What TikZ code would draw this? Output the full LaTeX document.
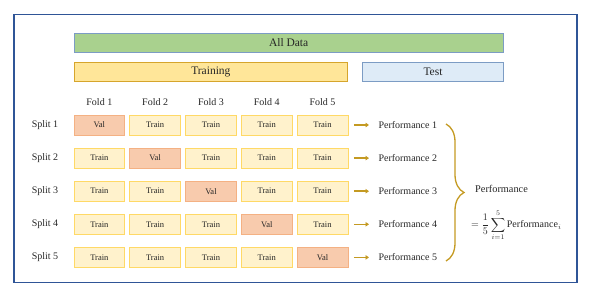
\documentclass[tikz,border=0pt]{standalone}
\usepackage{fontspec}
\usepackage{amsmath}
\setmainfont{Liberation Serif}
\usetikzlibrary{arrows.meta,decorations.pathreplacing}
\definecolor{framec}{HTML}{2F5597}
\definecolor{greenf}{HTML}{A9D18E}
\definecolor{blueb}{HTML}{7C9CC4}
\definecolor{goldf}{HTML}{FFE699}
\definecolor{goldb}{HTML}{D6A52C}
\definecolor{testf}{HTML}{DEEBF7}
\definecolor{trainf}{HTML}{FFF2CC}
\definecolor{trainb}{HTML}{FFD966}
\definecolor{valf}{HTML}{F8CBAD}
\definecolor{valb}{HTML}{F4B183}
\definecolor{arrowc}{HTML}{C49A22}
\definecolor{txt}{HTML}{262626}
\tikzset{
  bar/.style={draw, line width=1pt, minimum height=19.3pt, inner sep=0pt, text=txt, font=\fontsize{11.5}{12}\selectfont},
  cell/.style={draw, line width=0.8pt, minimum width=50.7pt, minimum height=20pt, inner sep=0pt, text=txt, font=\fontsize{8.5}{9}\selectfont},
  traincell/.style={cell, fill=trainf, draw=trainb},
  valcell/.style={cell, fill=valf, draw=valb},
  lab/.style={text=txt, inner sep=0pt, font=\fontsize{10}{11}\selectfont},
  arr/.style={draw=arrowc, line width=1.6pt, -{Triangle[length=3.5pt,width=4.5pt]}},
}
\begin{document}
\begin{tikzpicture}[x=1pt,y=-1pt]
\useasboundingbox (0,0) rectangle (600,297);
\node[draw=framec, line width=1.1pt, minimum width=563pt, minimum height=268pt, inner sep=0pt] (frame) at (295.5,148.2) {};
\node[bar, fill=greenf, draw=blueb, minimum width=429.3pt] (all) at (288.65,43) {All Data};
\node[bar, fill=goldf, draw=goldb, minimum width=273.7pt] (training) at (210.85,71.65) {Training};
\node[bar, fill=testf, draw=blueb, minimum width=140.6pt] (test) at (433,71.65) {Test};
\foreach \j in {1,...,5} {
  \node[lab] (fold\j) at ({99.35+55.8*(\j-1)},102) {Fold \j};
}
\foreach \i in {1,...,5} {
  \pgfmathsetmacro{\yy}{125+33.1*(\i-1)}
  \node[lab] (split\i) at (45,\yy) {Split \i};
  \foreach \j in {1,...,5} {
    \ifnum\i=\j
      \node[valcell] (c\i\j) at ({99.35+55.8*(\j-1)},\yy) {Val};
    \else
      \node[traincell] (c\i\j) at ({99.35+55.8*(\j-1)},\yy) {Train};
    \fi
  }
  \node[lab, anchor=west] (perf\i) at (378.3,\yy) {Performance \i};
  \draw[arr] ([xshift=5.6pt]c\i5.east) -- ([xshift=-9.3pt]perf\i.west);
}
\coordinate (btop) at (446,124);
\coordinate (bbot) at (446,261);
\draw[arrowc, line width=1.3pt, decorate, decoration={brace, amplitude=18pt}] (btop) -- (bbot);
\node[lab, anchor=west, font=\fontsize{10.3}{11}\selectfont] (perf) at (475,189) {Performance};
\node[lab, anchor=west, font=\fontsize{10}{11}\selectfont] (formula) at (471,225)
  {$\displaystyle = \frac{1}{5}\sum_{i=1}^{5}\mbox{Performance}_i$};
\end{tikzpicture}
\end{document}
